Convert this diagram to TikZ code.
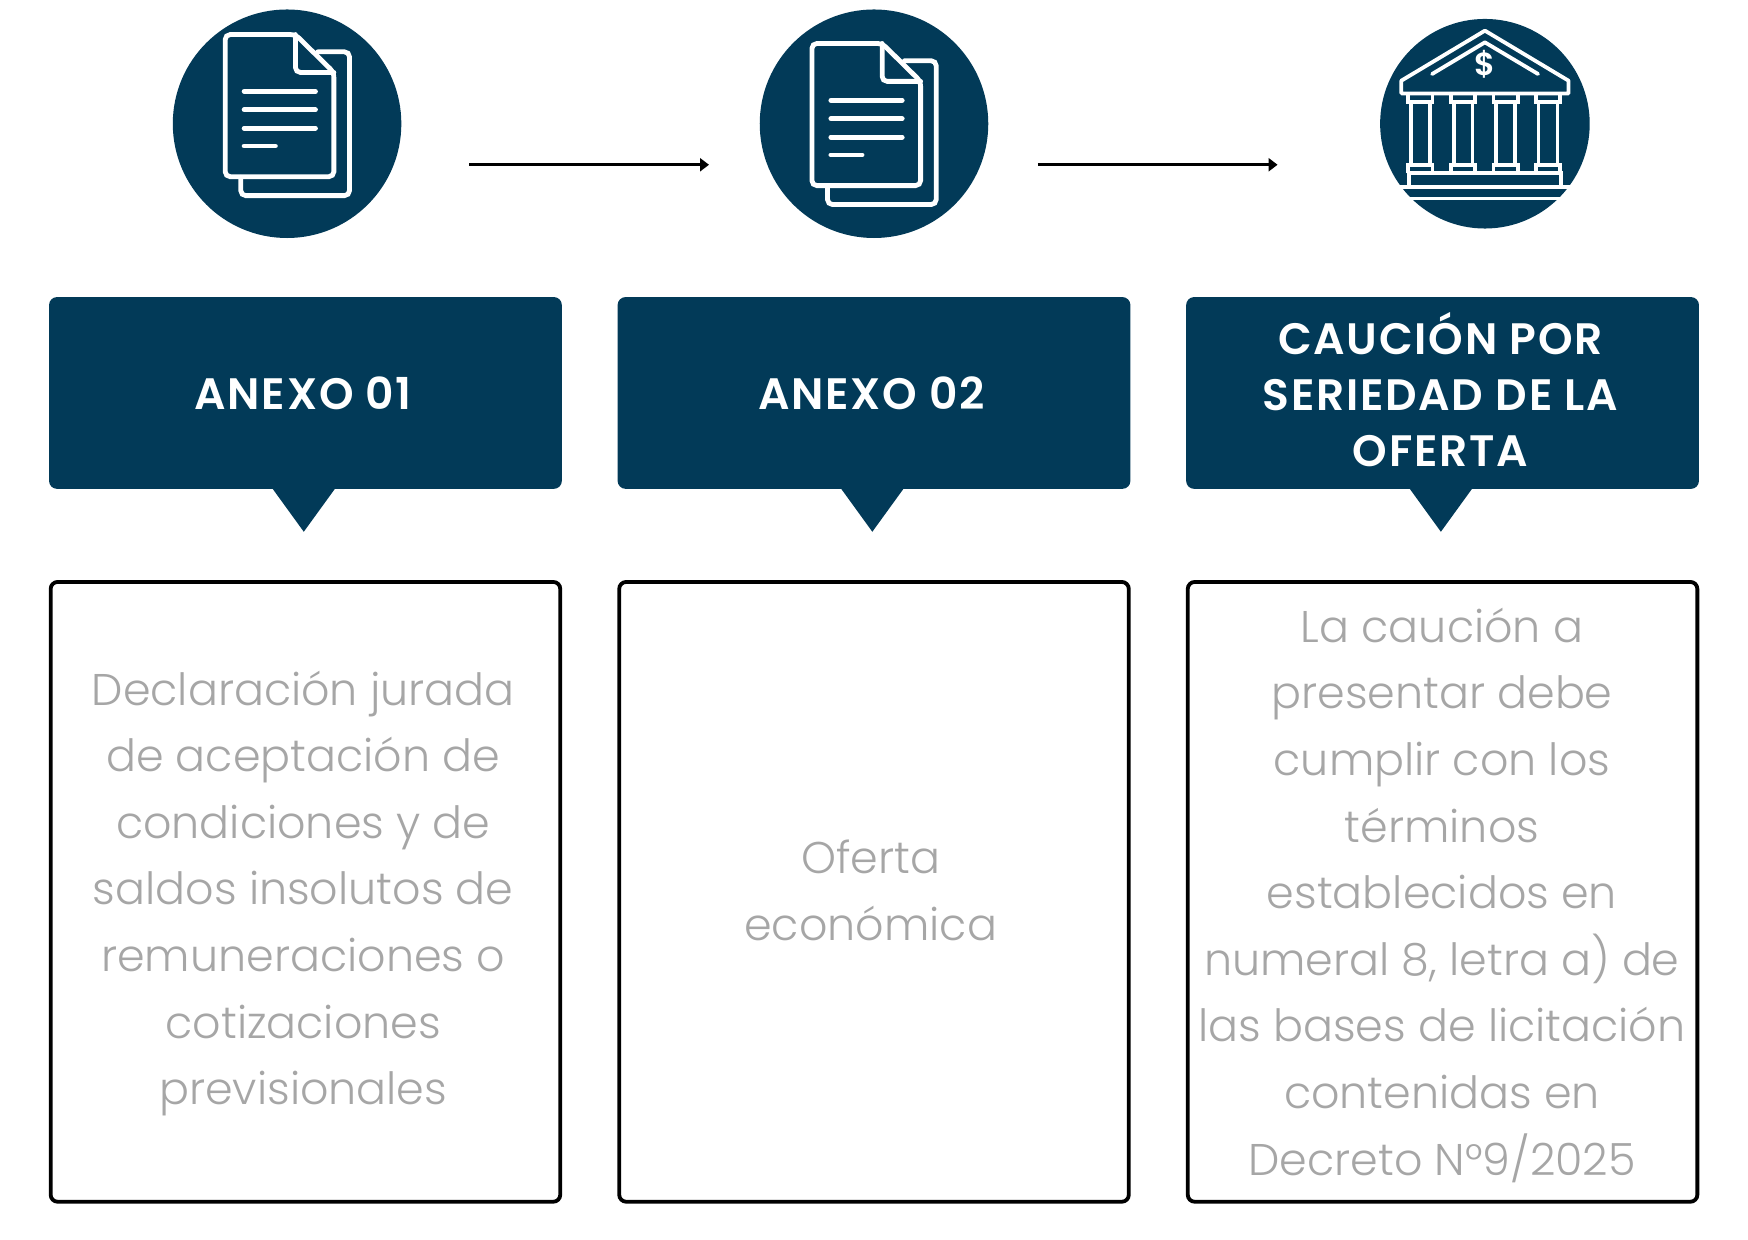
\documentclass[tikz,border=0pt]{standalone}
\usepackage{fontspec}
\setmainfont{Poppins}[UprightFont=* Light,BoldFont=* SemiBold]
\newfontfamily\headfont{Poppins SemiBold}[LetterSpace=4]
\usetikzlibrary{positioning,arrows.meta}
\definecolor{navy}{HTML}{023A58}
\definecolor{bodygray}{HTML}{A6A6A6}
\tikzset{
    pics/docicon/.style={
        code={
            % back page, then front page with folded corner
            \draw [iconline] (285,46.5) -- (313.5,46.5) -- (313.5,175.5) -- (216,175.5) -- (216,159);
            \draw [iconline] (202,31) -- (265,31) -- (299.5,65) -- (299.5,158.5) -- (202,158.5) -- cycle;
            \draw [iconline] (265,31) -- (265,65) -- (299.5,65);
            \draw [iconline] (219,82) -- (283,82);
            \draw [iconline] (219,98.5) -- (283,98.5);
            \draw [iconline] (219,115) -- (283,115);
            \draw [iconline] (219,131) -- (247,131);
        }
    },
}
\begin{document}
\begin{tikzpicture}
    [
        x=0.5574pt,
        y=-0.5574pt,
        iconline/.style={
                draw=white,
                line width=2.4pt,
                rounded corners=2.5pt,
                line cap=round,
            },
        bankline/.style={
                draw=white,
                line width=1.9pt,
            },
        disc/.style={
                circle,
                inner sep=0pt,
                minimum size=#1*0.5574pt,
                fill=navy,
            },
        header/.style={
                rectangle,
                rounded corners=4pt,
                minimum width=256.4pt,
                minimum height=95.9pt,
                inner sep=0pt,
                fill=navy,
            },
        headtext/.style={
                inner sep=0pt,
                text=white,
                align=center,
                font=\fontsize{22}{27.9}\selectfont\headfont,
            },
        bodybox/.style={
                rectangle,
                rounded corners=3.5pt,
                minimum width=254.8pt,
                minimum height=309.9pt,
                inner sep=0pt,
                draw=black,
                line width=1.9pt,
            },
        bodytext/.style={
                inner sep=0pt,
                text=bodygray,
                align=center,
                font=\fontsize{22.2}{33.3}\selectfont,
            },
        flow/.style={
                -{Triangle[length=4.5pt,width=6.5pt]},
                line width=1.4pt,
            },
    ]

    \useasboundingbox (0,0) rectangle (1568,1112.3);

    % icons on top
    \node [disc=205] (disc1) at (257.5,111) {};
    \node [disc=205] (disc2) at (784,111) {};
    \node [disc=188] (disc3) at (1332,111) {};
    \pic {docicon};
    \pic [xshift=526.3*0.5574pt, yshift=-8*0.5574pt] {docicon};

    % bank
    \begin{scope}
        \clip (disc3.center) circle [radius=95];
        \draw [bankline] (1200,167.5) -- (1460,167.5);
        \draw [bankline] (1200,178) -- (1460,178);
    \end{scope}
    \draw [bankline, line join=round] (1257,72.4) -- (1332,27.5) -- (1407,72.4) -- (1407,83.8) -- (1257,83.8) -- cycle;
    \draw [bankline, line cap=round, line join=round] (1284.6,66.4) -- (1332,38) -- (1379.7,66.4);
    \draw [bankline] (1264,166.6) -- (1264,155.5) -- (1400.3,155.5) -- (1400.3,166.6);
    \foreach \colx in {1274,1312.4,1350.7,1388.6}
        {
            \draw [bankline] (\colx-11,83.8) -- (\colx-11,91.2) -- (\colx+11,91.2) -- (\colx+11,83.8);
            \draw [bankline] (\colx-8.5,91.2) -- (\colx-8.5,148);
            \draw [bankline] (\colx+8.5,91.2) -- (\colx+8.5,148);
            \draw [bankline] (\colx-11,155.5) -- (\colx-11,148) -- (\colx+11,148) -- (\colx+11,155.5);
        }
    \node [text=white, inner sep=0pt, font=\fontsize{16}{16}\selectfont\bfseries] (dollar) at (1332,58) {\$};

    % arrows between icons
    \coordinate (a1) at (421,147.8);
    \coordinate (b1) at (636,147.8);
    \coordinate (a2) at (931,147.8);
    \coordinate (b2) at (1146,147.8);
    \draw [flow] (a1) -- (b1);
    \draw [flow] (a2) -- (b2);

    % header boxes with their pointers
    \foreach \tipx in {272.5,782.5,1292.5}
        {
            \fill [navy] (\tipx-29,437) -- (\tipx+29,437) -- (\tipx,477) -- cycle;
        }
    \node [header] (head1) at (274,352.5) {};
    \node [header] (head2) at (784,352.5) {};
    \node [header] (head3) at (1294,352.5) {};
    \node [headtext] (title1) at (272,353) {ANEXO 01};
    \node [headtext] (title2) at (782,353) {ANEXO 02};
    \node [headtext] (title3) at (1292,349.5) {CAUCIÓN POR\\SERIEDAD DE LA\\OFERTA};

    % text boxes
    \node [bodybox] (body1) at (274,800) {};
    \node [bodybox] (body2) at (784,800) {};
    \node [bodybox] (body3) at (1294,800) {};
    \node [bodytext] (text1) at (272,801.5) {Declaración jurada\\de aceptación de\\condiciones y de\\saldos insolutos de\\remuneraciones o\\cotizaciones\\previsionales};
    \node [bodytext] (text2) at (781,798.5) {Oferta\\económica};
    \node [bodytext] (text3) at (1293.5,803) {La caución a\\presentar debe\\cumplir con los\\términos\\establecidos en\\numeral 8, letra a) de\\las bases de licitación\\contenidas en\\Decreto N°9/2025};
\end{tikzpicture}
\end{document}
